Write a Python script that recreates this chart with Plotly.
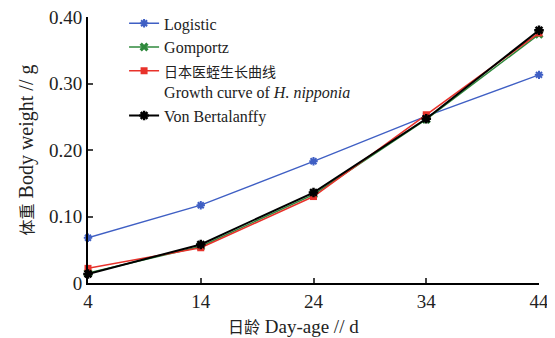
import plotly.graph_objects as go

days = [4, 14, 24, 34, 44]
logistic = [0.068, 0.117, 0.183, 0.251, 0.313]
gomportz = [0.015, 0.055, 0.133, 0.246, 0.374]
observed = [0.022, 0.053, 0.130, 0.253, 0.376]
bertalanffy = [0.0135, 0.058, 0.136, 0.247, 0.380]

y_ticks = [0, 0.10, 0.20, 0.30, 0.40]
y_tick_text = ["0", "0.10", "0.20", "0.30", "0.40"]
x_ticks = [4, 14, 24, 34, 44]

LAT = "Liberation Serif, Noto Sans CJK SC, serif"

fig = go.Figure()
fig.add_trace(go.Scatter(x=days, y=logistic, name="Logistic", mode="lines+markers",
                         line=dict(color="#3f5fc4", width=1.3),
                         marker=dict(symbol="asterisk-open", size=7, color="#3f5fc4",
                                     line=dict(color="#3f5fc4", width=2)), cliponaxis=False))
fig.add_trace(go.Scatter(x=days, y=gomportz, name="Gomportz", mode="lines+markers",
                         line=dict(color="#2f8a3c", width=1.5),
                         marker=dict(symbol="x", size=8, color="#2f8a3c"), cliponaxis=False))
fig.add_trace(go.Scatter(x=days, y=observed,
                         name="<span style='font-size:14px'>日本医蛭生长曲线</span><br>Growth curve of <i>H. nipponia</i>",
                         mode="lines+markers",
                         line=dict(color="#e8322b", width=1.5),
                         marker=dict(symbol="square", size=7, color="#e8322b"), cliponaxis=False))
fig.add_trace(go.Scatter(x=days, y=bertalanffy, name="Von Bertalanffy", mode="lines+markers",
                         line=dict(color="#000000", width=2),
                         marker=dict(symbol="asterisk-open", size=8, color="#000000",
                                     line=dict(color="#000000", width=2.5)), cliponaxis=False))

fig.update_layout(
    width=547, height=330,
    margin=dict(l=80, r=16, t=9, b=55, autoexpand=False),
    paper_bgcolor="white", plot_bgcolor="white",
    font=dict(family=LAT, size=16, color="#222"),
    showlegend=True,
    legend=dict(x=0.08, y=1.04, xanchor="left", yanchor="top", valign="top",
                bgcolor="rgba(0,0,0,0)", font=dict(size=16, family=LAT),
                tracegroupgap=0, itemwidth=30),
    xaxis=dict(range=[4, 44], tickvals=x_ticks, ticks="inside", ticklen=5, tickwidth=2,
               showline=True, linecolor="black", linewidth=2, showgrid=False, zeroline=False,
               tickfont=dict(size=19), automargin=False, ticklabeloverflow="allow"),
    yaxis=dict(range=[0, 0.40], tickvals=y_ticks, ticktext=y_tick_text, ticks="inside",
               ticklen=5, tickwidth=2, showline=True, linecolor="black", linewidth=2,
               showgrid=False, zeroline=False, tickfont=dict(size=19), automargin=False,
               ticklabeloverflow="allow",
               title=dict(text="<span style='font-size:16px'>体重</span> Body weight // g",
                          font=dict(size=20), standoff=10)),
    annotations=[dict(text="<span style='font-size:16px'>日龄</span> Day-age // d",
                      xref="paper", yref="paper", x=0.455, y=-0.165,
                      xanchor="center", yanchor="middle", showarrow=False,
                      font=dict(size=19, family=LAT, color="#222"))],
)

fig.write_html("out.html")
